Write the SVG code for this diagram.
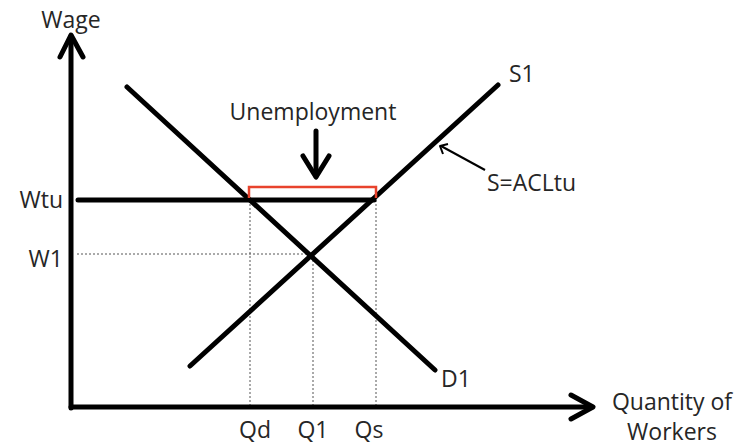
<svg xmlns="http://www.w3.org/2000/svg" width="740" height="446" viewBox="0 0 740 446">
<style>
text{font-family:"Open Sans","Liberation Sans",sans-serif;fill:#262626;font-size:23px}
.thick{stroke:#000;stroke-width:5;stroke-linecap:round;fill:none}
.dot{stroke:#555;stroke-width:1;stroke-dasharray:2,2;fill:none}
.head{stroke:#000;stroke-width:5;stroke-linecap:round;stroke-linejoin:round;fill:none}
</style>
<rect width="740" height="446" fill="#fff"/>
<g id="connectors">
<line class="dot" x1="77" y1="254" x2="312" y2="254"/>
<line class="dot" x1="250" y1="200" x2="250" y2="407"/>
<line class="dot" x1="313" y1="256" x2="313" y2="407"/>
<line class="dot" x1="376" y1="200" x2="376" y2="407"/>
</g>
<g id="y-axis">
<line class="thick" x1="71" y1="408" x2="71" y2="36"/>
<polyline class="head" points="60,57 71,35 83,57"/>
<text x="71" y="28" text-anchor="middle" font-size="24">Wage</text>
</g>
<g id="x-axis">
<line class="thick" x1="71" y1="407" x2="592" y2="407"/>
<polyline class="head" points="571,395 593,407 571,419"/>
<text x="672" y="410" text-anchor="middle">Quantity of</text>
<text x="672" y="440" text-anchor="middle">Workers</text>
</g>
<g id="demand">
<line class="thick" x1="127" y1="87" x2="435" y2="370"/>
<text x="441" y="387">D1</text>
</g>
<g id="supply">
<line class="thick" x1="190" y1="366" x2="498" y2="85"/>
<text x="509" y="82">S1</text>
</g>
<g id="wtu">
<line class="thick" x1="78" y1="200" x2="374" y2="200"/>
<text x="63" y="208" text-anchor="end">Wtu</text>
</g>
<g id="w1">
<text x="63" y="267" text-anchor="end">W1</text>
</g>
<g id="unemployment">
<polyline points="249,198 249,187 376,187 376,198" fill="none" stroke="#e8432d" stroke-width="2.5"/>
<line class="thick" x1="316" y1="131" x2="316" y2="176"/>
<polyline class="head" points="303,156 316,177 329,156"/>
<text x="313" y="120" text-anchor="middle" font-size="24">Unemployment</text>
</g>
<g id="acl">
<line x1="485" y1="170" x2="441" y2="146" stroke="#000" stroke-width="2"/>
<polyline points="448,144 440,146 443,154" fill="none" stroke="#000" stroke-width="2" stroke-linejoin="round"/>
<text x="487" y="191">S=ACLtu</text>
</g>
<g id="q-labels">
<text x="255" y="438" text-anchor="middle">Qd</text>
<text x="313" y="438" text-anchor="middle">Q1</text>
<text x="369" y="438" text-anchor="middle">Qs</text>
</g>
</svg>
